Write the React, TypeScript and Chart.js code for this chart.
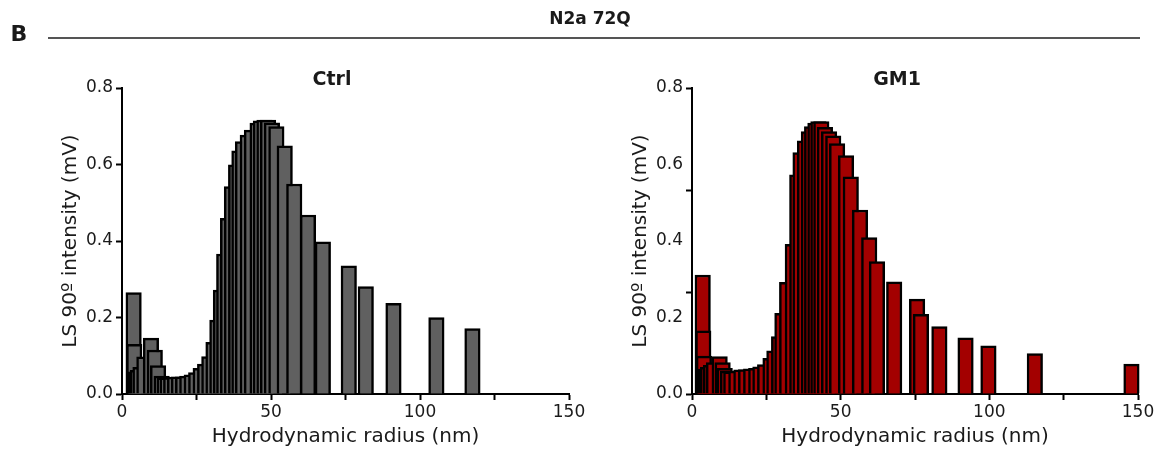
import React, { useEffect, useRef } from 'react';
import { Chart, registerables } from 'chart.js';

Chart.register(...registerables);

// ---- Data ----
const ctrlRadius = [
  3.9, 4.1, 4.6, 5.3, 6.2, 7.5, 9.7, 11.0, 12.1, 13.3, 14.3, 15.3, 16.5, 17.8, 19.1, 20.5,
  21.9, 23.4, 24.9, 26.4, 27.9, 29.3, 30.7, 32.0, 33.2, 34.3, 35.6, 36.9, 38.3, 39.4, 40.6,
  42.2, 43.6, 45.5, 46.6, 47.8, 49.0, 50.3, 51.8, 54.6, 57.8, 62.4, 67.4, 76.1, 81.8, 91.1,
  105.5, 117.6,
];
const ctrlIntensity = [
  0.265, 0.13, 0.058, 0.062, 0.07, 0.097, 0.146, 0.115, 0.074, 0.047, 0.042, 0.042, 0.043, 0.044, 0.045, 0.045,
  0.047, 0.05, 0.056, 0.067, 0.078, 0.098, 0.135, 0.193, 0.272, 0.366, 0.459, 0.542, 0.599, 0.636, 0.66,
  0.677, 0.69, 0.708, 0.714, 0.716, 0.716, 0.709, 0.699, 0.649, 0.549, 0.468, 0.398, 0.335, 0.281, 0.237,
  0.2, 0.171,
];

const gm1Radius = [
  3.6, 3.8, 4.0, 4.6, 5.4, 6.4, 7.4, 9.3, 10.3, 11.0, 12.1, 13.2, 14.9, 16.6, 18.2, 19.9,
  21.6, 23.0, 24.6, 26.4, 27.7, 29.3, 30.4, 32.0, 33.9, 35.4, 36.5, 38.0, 39.3, 40.4, 41.5,
  42.5, 43.5, 44.7, 46.1, 47.5, 48.8, 51.8, 53.4, 56.5, 59.6, 62.2, 68.0, 75.7, 77.0, 83.2,
  92.0, 99.7, 115.3, 147.8,
];
const gm1Intensity = [
  0.311, 0.165, 0.099, 0.065, 0.07, 0.075, 0.082, 0.098, 0.082, 0.067, 0.06, 0.058, 0.06, 0.063, 0.064, 0.066,
  0.067, 0.071, 0.077, 0.093, 0.113, 0.15, 0.211, 0.292, 0.391, 0.573, 0.631, 0.662, 0.686, 0.699, 0.708,
  0.712, 0.712, 0.697, 0.686, 0.675, 0.655, 0.623, 0.568, 0.481, 0.409, 0.346, 0.293, 0.248, 0.208, 0.176,
  0.147, 0.126, 0.106, 0.078,
];

const xTickValues = [0, 25, 50, 75, 100, 125, 150];
const xLabelledTicks = [0, 50, 100, 150];
const ctrlYTicks = [0, 0.2, 0.4, 0.6, 0.8];
const ctrlYMarked = [0, 0.2, 0.4, 0.6, 0.8];
const gm1YTicks = [0, 0.2, 0.8 / 3, 0.4, 1.6 / 3, 0.6, 0.8];
const gm1YMarked = [0, 0.8 / 3, 1.6 / 3, 0.8];
const yLabelledTicks = [0, 0.2, 0.4, 0.6, 0.8];

const FONT = "'DejaVu Sans', 'Liberation Sans', sans-serif";
const TEXT = '#1a1a1a';

const near = (list: number[], v: number) => list.some((t) => Math.abs(t - v) < 1e-6);

type PanelProps = {
  radius: number[];
  intensity: number[];
  fill: string;
  yTicks: number[];
  yMarked: number[];
  left: number;
  width: number;
  yAxisWidth: number;
  yTitlePad: number;
  rightPad: number;
};

function Panel(p: PanelProps) {
  const ref = useRef<HTMLCanvasElement | null>(null);
  useEffect(() => {
    if (!ref.current) return;
    const chart = new Chart(ref.current, {
      type: 'bar',
      data: {
        datasets: [
          {
            data: p.radius.map((r, i) => ({ x: r, y: p.intensity[i] })),
            backgroundColor: p.fill,
            borderColor: '#000',
            borderWidth: 2.5,
            barThickness: 15.5,
            borderSkipped: 'start',
            clip: 12,
          } as any,
        ],
      },
      options: {
        responsive: false,
        maintainAspectRatio: false,
        animation: false,
        layout: { padding: { left: 0, right: p.rightPad, top: 88, bottom: 0 } },
        plugins: {
          legend: { display: false },
          tooltip: { enabled: false },
          title: { display: false },
        },
        scales: {
          x: {
            type: 'linear',
            min: 0,
            max: 150,
            offset: false,
            z: 1,
            afterBuildTicks: (s: any) => {
              s.ticks = xTickValues.map((v) => ({ value: v }));
            },
            afterFit: (s: any) => {
              s.height = 61;
            },
            ticks: {
              autoSkip: false,
              maxRotation: 0,
              padding: 2,
              color: TEXT,
              font: { family: FONT, size: 17 },
              callback: (v: any) => (near(xLabelledTicks, Number(v)) ? String(v) : ''),
            },
            grid: {
              display: true,
              drawOnChartArea: false,
              drawTicks: true,
              tickLength: 6,
              tickWidth: 2,
              tickColor: '#000',
              offset: false,
            },
            border: { display: true, color: '#000', width: 2 },
            title: {
              display: true,
              text: 'Hydrodynamic radius (nm)',
              color: TEXT,
              font: { family: FONT, size: 20 },
              padding: { top: 0, bottom: 6 },
            },
          },
          y: {
            type: 'linear',
            min: 0,
            max: 0.8,
            z: 1,
            afterBuildTicks: (s: any) => {
              s.ticks = p.yTicks.map((v) => ({ value: v }));
            },
            afterFit: (s: any) => {
              s.width = p.yAxisWidth;
            },
            ticks: {
              autoSkip: false,
              padding: 3,
              color: TEXT,
              font: { family: FONT, size: 17 },
              callback: (v: any) => (near(yLabelledTicks, Number(v)) ? Number(v).toFixed(1) : ''),
            },
            grid: {
              display: true,
              drawOnChartArea: false,
              drawTicks: true,
              tickLength: 6,
              tickWidth: 2,
              tickColor: (ctx: any) =>
                ctx.tick && near(p.yMarked, ctx.tick.value) ? '#000' : 'rgba(0,0,0,0)',
            },
            border: { display: true, color: '#000', width: 2 },
            title: {
              display: true,
              text: 'LS 90º intensity (mV)',
              color: TEXT,
              font: { family: FONT, size: 20 },
              padding: { top: p.yTitlePad, bottom: 0 },
            },
          },
        },
      } as any,
    });
    return () => chart.destroy();
  }, []);
  return (
    <canvas
      ref={ref}
      width={p.width}
      height={455}
      style={{ position: 'absolute', left: p.left, top: 0, width: p.width, height: 455, display: 'block' }}
    />
  );
}

const textBase: React.CSSProperties = {
  position: 'absolute',
  fontFamily: FONT,
  fontWeight: 'bold',
  color: TEXT,
  lineHeight: 1,
  whiteSpace: 'nowrap',
  transform: 'translate(-50%, -50%)',
};

export default function App() {
  return (
    <div
      style={{
        position: 'absolute',
        left: 0,
        top: 0,
        width: 1164,
        height: 455,
        background: '#fff',
        overflow: 'hidden',
      }}
    >
      <Panel
        radius={ctrlRadius}
        intensity={ctrlIntensity}
        fill="#606060"
        yTicks={ctrlYTicks}
        yMarked={ctrlYMarked}
        left={0}
        width={600}
        yAxisWidth={122}
        yTitlePad={59}
        rightPad={31}
      />
      <Panel
        radius={gm1Radius}
        intensity={gm1Intensity}
        fill="#a30000"
        yTicks={gm1YTicks}
        yMarked={gm1YMarked}
        left={600}
        width={564}
        yAxisWidth={92}
        yTitlePad={29}
        rightPad={26}
      />
      <div style={{ ...textBase, left: 19, top: 34, fontSize: 22 }}>B</div>
      <div style={{ ...textBase, left: 590, top: 18, fontSize: 17 }}>N2a 72Q</div>
      <div style={{ position: 'absolute', left: 48, top: 37, width: 1092, height: 2, background: '#555' }} />
      <div style={{ ...textBase, left: 332, top: 78, fontSize: 19 }}>Ctrl</div>
      <div style={{ ...textBase, left: 897, top: 78, fontSize: 19 }}>GM1</div>
    </div>
  );
}
